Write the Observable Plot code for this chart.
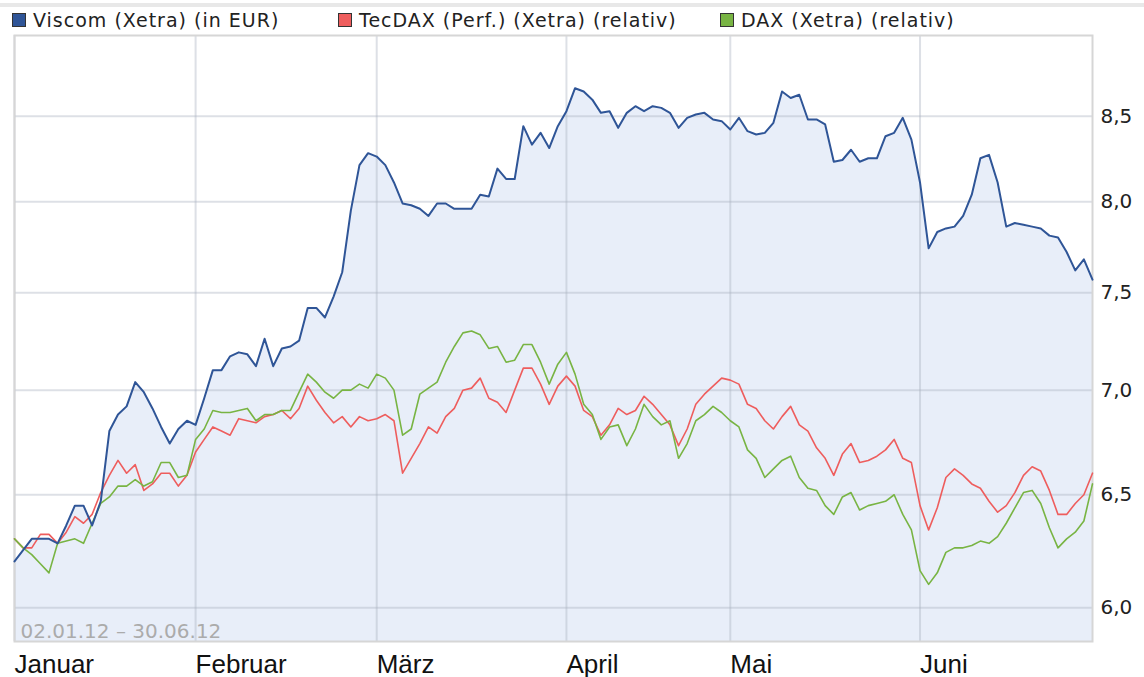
<!DOCTYPE html>
<html><head><meta charset="utf-8">
<script src="https://cdn.jsdelivr.net/npm/d3@7"></script>
<script src="https://cdn.jsdelivr.net/npm/@observablehq/plot@0.6"></script>
<style>
body{margin:0;background:#fff;width:1144px;height:677px;overflow:hidden;position:relative;font-family:"DejaVu Sans",sans-serif}
#topbar{position:absolute;left:0;top:3px;width:1144px;height:4px;background:#e8e8e8}
.leg{position:absolute;top:9px;height:22px;display:flex;align-items:center;font-size:19px;letter-spacing:1px;color:#222;white-space:nowrap}
.sw{width:12px;height:12px;border:1px solid #333;margin-right:7px}
#chart{position:absolute;left:0;top:30px}
</style></head><body>
<div id="topbar"></div>
<div id="legend"></div>
<div id="chart"></div>
<script>
const seriesNames = ["Viscom (Xetra) (in EUR)", "TecDAX (Perf.) (Xetra) (relativ)", "DAX (Xetra) (relativ)"];
const seriesColors = ["#2f5597", "#ee5d5d", "#78b443"];
const legendLeft = [12, 338, 720];

const viscom = [6.20,6.25,6.30,6.30,6.30,6.28,6.36,6.45,6.45,6.36,
6.47,6.80,6.88,6.92,7.04,6.99,6.91,6.82,6.74,6.81,
6.85,6.83,6.96,7.10,7.10,7.17,7.19,7.18,7.12,7.26,
7.12,7.21,7.22,7.25,7.42,7.42,7.37,7.48,7.61,7.95,
8.21,8.28,8.26,8.21,8.11,7.99,7.98,7.96,7.92,7.99,
7.99,7.96,7.96,7.96,8.04,8.03,8.19,8.13,8.13,8.44,
8.33,8.40,8.31,8.44,8.53,8.67,8.65,8.60,8.52,8.53,
8.43,8.52,8.56,8.53,8.56,8.55,8.52,8.43,8.49,8.51,
8.52,8.48,8.47,8.42,8.49,8.41,8.39,8.40,8.46,8.65,
8.61,8.63,8.48,8.48,8.45,8.23,8.24,8.30,8.23,8.25,
8.25,8.38,8.40,8.49,8.36,8.11,7.74,7.83,7.85,7.86,
7.92,8.04,8.25,8.27,8.11,7.86,7.88,7.87,7.86,7.85,
7.81,7.80,7.72,7.62,7.68,7.57];

const tecdax = [6.30,6.26,6.26,6.32,6.32,6.28,6.33,6.40,6.37,6.41,
6.51,6.59,6.66,6.60,6.64,6.52,6.55,6.60,6.60,6.54,
6.59,6.70,6.76,6.82,6.80,6.78,6.86,6.85,6.84,6.87,
6.88,6.90,6.86,6.91,7.02,6.95,6.89,6.84,6.87,6.82,
6.87,6.85,6.86,6.88,6.85,6.60,6.67,6.74,6.82,6.79,
6.87,6.91,7.00,7.01,7.06,6.96,6.94,6.89,7.00,7.11,
7.11,7.03,6.93,7.02,7.07,7.02,6.90,6.87,6.78,6.83,
6.91,6.88,6.90,6.97,6.93,6.88,6.83,6.73,6.81,6.93,
6.98,7.02,7.06,7.05,7.03,6.93,6.91,6.85,6.81,6.87,
6.92,6.83,6.80,6.72,6.67,6.59,6.69,6.74,6.65,6.66,
6.68,6.71,6.76,6.67,6.65,6.45,6.34,6.44,6.58,6.62,
6.59,6.55,6.53,6.47,6.42,6.45,6.51,6.59,6.63,6.61,
6.52,6.41,6.41,6.46,6.50,6.60];

const dax = [6.30,6.26,6.23,6.19,6.15,6.28,6.29,6.30,6.28,6.37,
6.46,6.49,6.54,6.54,6.57,6.54,6.56,6.65,6.65,6.58,
6.59,6.76,6.81,6.90,6.89,6.89,6.90,6.91,6.85,6.88,
6.88,6.90,6.90,6.99,7.08,7.04,6.99,6.96,7.00,7.00,
7.03,7.01,7.08,7.06,7.00,6.78,6.81,6.98,7.01,7.04,
7.14,7.22,7.29,7.30,7.28,7.21,7.22,7.14,7.15,7.23,
7.23,7.14,7.03,7.13,7.19,7.08,6.93,6.88,6.76,6.82,
6.83,6.73,6.81,6.93,6.87,6.83,6.85,6.67,6.74,6.85,
6.88,6.92,6.89,6.85,6.82,6.71,6.67,6.58,6.62,6.66,
6.68,6.58,6.53,6.52,6.45,6.41,6.49,6.51,6.43,6.45,
6.46,6.47,6.50,6.41,6.34,6.16,6.10,6.15,6.24,6.26,
6.26,6.27,6.29,6.28,6.31,6.37,6.44,6.51,6.52,6.46,
6.35,6.26,6.30,6.33,6.38,6.55];

const monthLabels = ["Januar","Februar","März","April","Mai","Juni"];
const monthStartDay = [0,21,42,64,83,105];
const yTicks = [6.0,6.5,7.0,7.5,8.0,8.5];
const dateRangeLabel = "02.01.12 – 30.06.12";

// legend
const legend = document.getElementById("legend");
seriesNames.forEach((name, k) => {
  const d = document.createElement("div");
  d.className = "leg";
  d.style.left = legendLeft[k] + "px";
  const sw = document.createElement("div");
  sw.className = "sw";
  sw.style.background = seriesColors[k];
  d.appendChild(sw);
  const t = document.createElement("span");
  t.textContent = name;
  d.appendChild(t);
  legend.appendChild(d);
});

const toRows = arr => arr.map((v, i) => ({day: i, value: v}));
const blueRows = toRows(viscom), redRows = toRows(tecdax), greenRows = toRows(dax);
const yMin = 5.858, yMax = 9.0;

const chart = Plot.plot({
  width: 1144, height: 647,
  marginTop: 5, marginBottom: 36, marginLeft: 14, marginRight: 52,
  style: {background: "transparent", fontFamily: "DejaVu Sans", overflow: "visible"},
  x: {type: "linear", domain: [0, 125], label: null},
  y: {type: "log", domain: [yMin, yMax], label: null},
  marks: [
    Plot.areaY(blueRows, {x: "day", y1: yMin, y2: "value", fill: "#e8eef9"}),
    Plot.gridX(monthStartDay, {stroke: "#aab2c0", strokeOpacity: 0.4, strokeWidth: 2}),
    Plot.gridY(yTicks, {stroke: "#aab2c0", strokeOpacity: 0.4, strokeWidth: 2}),
    Plot.frame({stroke: "#d6d6d6", strokeWidth: 2}),
    Plot.line(redRows, {x: "day", y: "value", stroke: seriesColors[1], strokeWidth: 1.6}),
    Plot.line(greenRows, {x: "day", y: "value", stroke: seriesColors[2], strokeWidth: 1.6}),
    Plot.line(blueRows, {x: "day", y: "value", stroke: seriesColors[0], strokeWidth: 2}),
    Plot.text([dateRangeLabel], {frameAnchor: "bottom-left", dx: 6, dy: -4, textAnchor: "start", fill: "#ababab", fontSize: 20, fontFamily: "DejaVu Sans"}),
    Plot.axisY(yTicks, {anchor: "right", tickSize: 0, tickPadding: 8, textAnchor: "start", label: null,
      tickFormat: d => d.toFixed(1).replace(".", ","), fontSize: 20, fill: "#222", fontFamily: "DejaVu Sans"}),
    Plot.axisX(monthStartDay, {anchor: "bottom", tickSize: 0, tickPadding: 13, textAnchor: "start", label: null,
      tickFormat: d => monthLabels[monthStartDay.indexOf(d)], fontSize: 26, fill: "#111", fontFamily: "Liberation Sans"})
  ]
});
document.getElementById("chart").appendChild(chart);
</script>
</body></html>
